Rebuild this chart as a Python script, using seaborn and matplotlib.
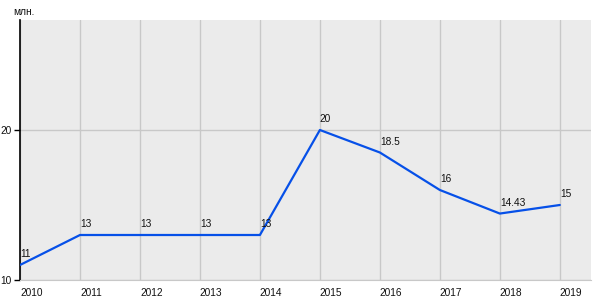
import matplotlib
matplotlib.use("Agg")
import matplotlib.pyplot as plt
import seaborn as sns
import pandas as pd

years = [2010, 2011, 2012, 2013, 2014, 2015, 2016, 2017, 2018, 2019]
values = [11, 13, 13, 13, 13, 20, 18.5, 16, 14.43, 15]
labels = ["11", "13", "13", "13", "13", "20", "18.5", "16", "14.43", "15"]
yticks = [10, 20]
unit = "млн."

sns.set_style("white")
plt.rcParams['font.family'] = ['Liberation Sans', 'DejaVu Sans']

fig = plt.figure(figsize=(6, 3), dpi=100)
ax = fig.add_axes([20/600, 20/300, 571/600, 260/300])
ax.set_facecolor("#EBEBEB")

df = pd.DataFrame({"year": years, "value": values})
sns.lineplot(data=df, x="year", y="value", ax=ax, color="#0650E8", linewidth=1.6, zorder=3)

for x, y, t in zip(years, values, labels):
    ax.annotate(t, (x, y), xytext=(0, 4), textcoords="offset points",
                ha="left", va="bottom", fontsize=7.3, color="#111111", zorder=4)

ax.set_xlim(2010, 2019.52)
ax.set_ylim(10, 10 + 260/15)
ax.set_xticks(years)
ax.set_xticklabels([str(y) for y in years])
ax.set_yticks(yticks)
ax.grid(True, color="#C8C8C8", linewidth=1)
ax.set_axisbelow(True)
ax.set_xlabel("")
ax.set_ylabel("")
for s in ["top", "right"]:
    ax.spines[s].set_visible(False)
ax.spines["left"].set_color("black")
ax.spines["left"].set_linewidth(1.2)
ax.spines["bottom"].set_color("#C8C8C8")
ax.tick_params(axis="y", which="both", left=True, length=4, width=1, color="black",
               labelsize=7.3, pad=2, labelcolor="#111111")
ax.tick_params(axis="x", which="both", bottom=False, labelsize=7.3, pad=2, labelcolor="#111111")
for lbl in ax.get_xticklabels():
    lbl.set_horizontalalignment("left")

fig.text(13/600, 1 - 12/300, unit, fontsize=7.3, color="#111111", ha="left", va="center")

fig.savefig("out.png", dpi=100)
